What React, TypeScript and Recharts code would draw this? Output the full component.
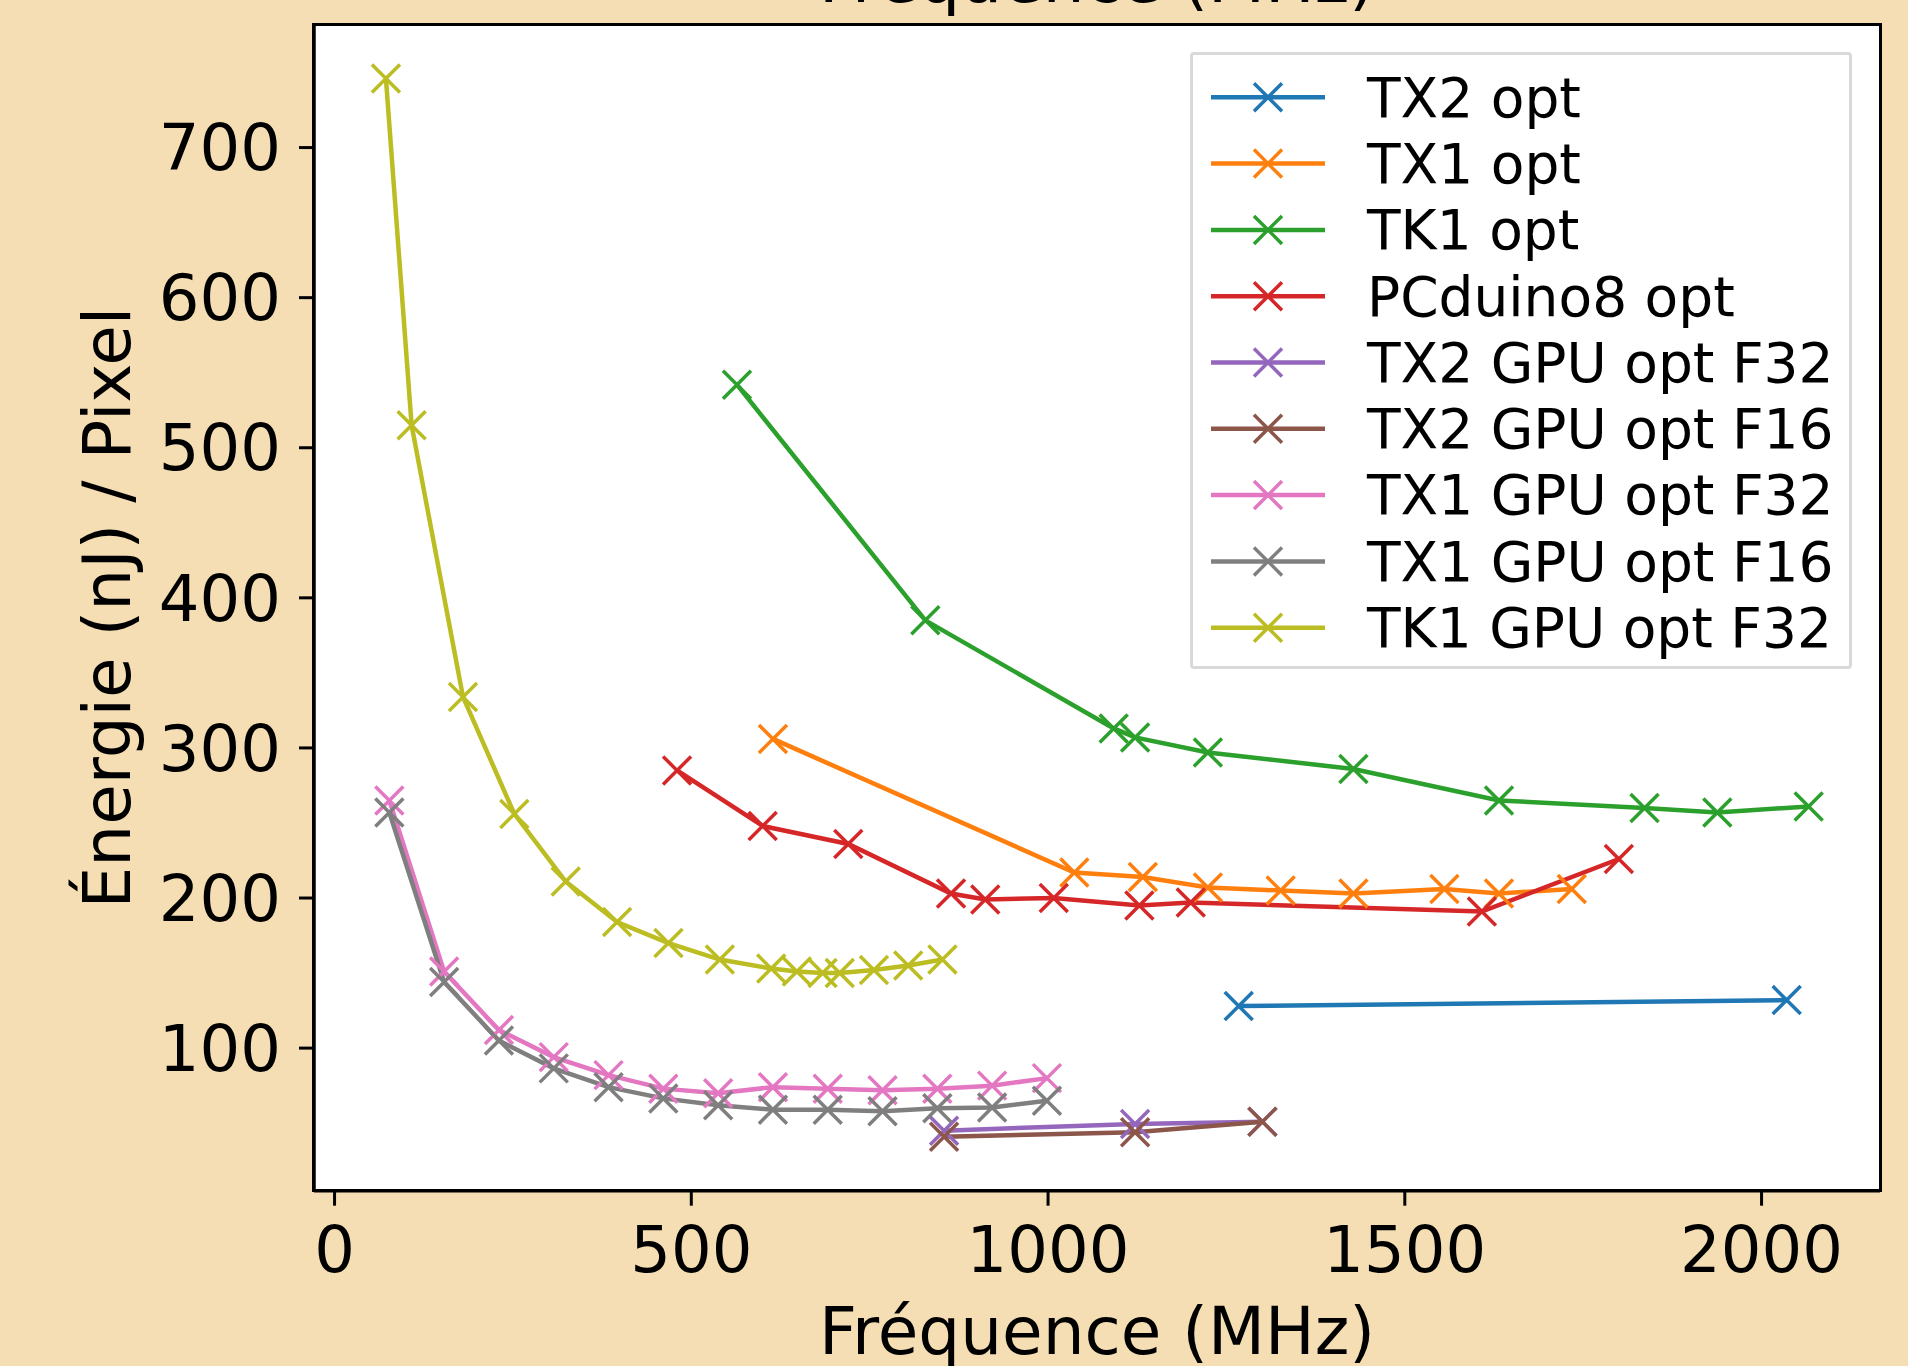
import { LineChart, Line, XAxis, YAxis, CartesianGrid, Legend } from "recharts";

const FONT = "DejaVu Sans";
const BG = "#f5deb3";

// frequencies (MHz) and energy per pixel (nJ)
const tx2Freq = [1267.2, 2035.2];
const tx2Energy = [128, 132];

const tx1Freq = [614.4, 1036.8, 1132.8, 1224, 1326, 1428, 1555.5, 1632, 1734];
const tx1Energy = [306, 217, 214, 207, 205, 203, 206, 203, 206];

const tk1Freq = [564, 828, 1092, 1122, 1224, 1428, 1632, 1836, 1938, 2066];
const tk1Energy = [542, 385, 313, 307, 297, 286, 265, 260, 257, 261];

const pcduinoFreq = [480, 600, 720, 864, 912, 1008, 1128, 1200, 1608, 1800];
const pcduinoEnergy = [285, 248, 236, 203, 199, 200, 195, 197, 191, 226];

const tx2GpuFreq = [854.25, 1122, 1300.5];
const tx2GpuF32 = [45, 49.5, 51];
const tx2GpuF16 = [41, 44, 51];

const tx1GpuFreq = [76.8, 153.6, 230.4, 307.2, 384, 460.8, 537.6, 614.4, 691.2, 768, 844.8, 921.6, 998.4];
const tx1GpuF32 = [265, 151, 112, 94, 82, 73, 70, 74, 73, 72, 73, 75, 80];
const tx1GpuF16 = [257, 144, 105, 86.5, 74, 66.5, 62, 59, 59, 58, 60, 60.5, 65];

const tk1GpuFreq = [72, 108, 180, 252, 324, 396, 468, 540, 612, 648, 684, 708, 756, 804, 852];
const tk1GpuF32 = [746, 515, 334, 256, 211, 184, 170, 159, 153, 151, 150, 150, 152, 155, 159];

const xTicks = [0, 500, 1000, 1500, 2000];
const yTicks = [100, 200, 300, 400, 500, 600, 700];

type Series = { name: string; color: string; freq: number[]; energy: number[] };

const series: Series[] = [
  { name: "TX2 opt", color: "#1f77b4", freq: tx2Freq, energy: tx2Energy },
  { name: "TX1 opt", color: "#ff7f0e", freq: tx1Freq, energy: tx1Energy },
  { name: "TK1 opt", color: "#2ca02c", freq: tk1Freq, energy: tk1Energy },
  { name: "PCduino8 opt", color: "#d62728", freq: pcduinoFreq, energy: pcduinoEnergy },
  { name: "TX2 GPU opt F32", color: "#9467bd", freq: tx2GpuFreq, energy: tx2GpuF32 },
  { name: "TX2 GPU opt F16", color: "#8c564b", freq: tx2GpuFreq, energy: tx2GpuF16 },
  { name: "TX1 GPU opt F32", color: "#e377c2", freq: tx1GpuFreq, energy: tx1GpuF32 },
  { name: "TX1 GPU opt F16", color: "#7f7f7f", freq: tx1GpuFreq, energy: tx1GpuF16 },
  { name: "TK1 GPU opt F32", color: "#bcbd22", freq: tk1GpuFreq, energy: tk1GpuF32 },
];

const W = 1908;
const H = 1366;
const PLOT = { left: 314, top: 24.5, right: 1880, bottom: 1190.7 };
const Y_AXIS_W = 200;
const X_AXIS_H = 100;
const MARK = 14;
const LABEL_SIZE = 66;

const crossPath = (x: number, y: number, r: number) =>
  `M${x - r},${y - r}L${x + r},${y + r}M${x - r},${y + r}L${x + r},${y - r}`;

const crossDot = (name: string, color: string) => (p: any) => {
  if (p.cx == null || p.cy == null) return <g key={`${name}-${p.index}`} />;
  return (
    <path
      key={`${name}-${p.index}`}
      d={crossPath(p.cx, p.cy, MARK)}
      stroke={color}
      strokeWidth={3.5}
      fill="none"
    />
  );
};

const xLabel = (props: any) => {
  const vb = props.viewBox;
  return (
    <text x={vb.x + vb.width / 2} y={vb.y + 163.3} textAnchor="middle" fontSize={LABEL_SIZE} fontFamily={FONT} fill="#000">
      Fréquence (MHz)
    </text>
  );
};

const yLabel = (props: any) => {
  const vb = props.viewBox;
  const x = vb.x + 16;
  const cy = vb.y + vb.height / 2;
  return (
    <text
      x={x}
      y={cy}
      transform={`rotate(-90, ${x}, ${cy})`}
      textAnchor="middle"
      fontSize={LABEL_SIZE}
      fontFamily={FONT}
      fill="#000"
    >
      Énergie (nJ) / Pixel
    </text>
  );
};

const LEG = { left: 1190, top: 52, width: 662, height: 617 };

function LegendBox() {
  return (
    <div
      style={{
        width: LEG.width,
        height: LEG.height,
        boxSizing: "border-box",
        background: "#fff",
        border: "3px solid #d9d9d9",
        borderRadius: 4,
      }}
    >
      <svg width={LEG.width - 6} height={LEG.height - 6} style={{ display: "block", overflow: "visible" }}>
        {series.map((s, i) => {
          const cy = 42.3 + i * 66.3;
          return (
            <g key={s.name}>
              <line x1={18} x2={132} y1={cy} y2={cy} stroke={s.color} strokeWidth={4.5} />
              <path d={crossPath(75, cy, MARK)} stroke={s.color} strokeWidth={3.5} fill="none" />
              <text x={174} y={cy + 19.3} fontSize={55} fontFamily={FONT} fill="#000">
                {s.name}
              </text>
            </g>
          );
        })}
      </svg>
    </div>
  );
}

export default function App() {
  return (
    <div style={{ position: "absolute", left: 0, top: 0, width: W, height: H, background: BG, overflow: "hidden" }}>
      <LineChart
        width={W}
        height={H}
        margin={{
          top: PLOT.top,
          right: W - PLOT.right,
          bottom: H - PLOT.bottom - X_AXIS_H,
          left: PLOT.left - Y_AXIS_W,
        }}
      >
        <CartesianGrid fill="#fff" horizontal={false} vertical={false} />
        <XAxis
          dataKey="f"
          type="number"
          domain={[-28.8, 2166]}
          ticks={xTicks}
          allowDataOverflow
          height={X_AXIS_H}
          tickSize={15}
          tickMargin={21}
          tick={{ fontSize: 64, fontFamily: FONT, fill: "#000" }}
          tickLine={{ stroke: "#000", strokeWidth: 3 }}
          axisLine={{ stroke: "#000", strokeWidth: 3.5 }}
          label={xLabel}
        />
        <YAxis
          type="number"
          domain={[5, 782]}
          ticks={yTicks}
          allowDataOverflow
          width={Y_AXIS_W}
          tickSize={15}
          tickMargin={18}
          tick={{ fontSize: 64, fontFamily: FONT, fill: "#000" }}
          tickLine={{ stroke: "#000", strokeWidth: 3 }}
          axisLine={{ stroke: "#000", strokeWidth: 3.5 }}
          label={yLabel}
        />
        <Legend
          layout="vertical"
          align="center"
          verticalAlign="middle"
          content={() => <LegendBox />}
          wrapperStyle={{ left: LEG.left, top: LEG.top, width: LEG.width, height: LEG.height }}
        />
        {series.map((s) => (
          <Line
            key={s.name}
            name={s.name}
            data={s.freq.map((f, i) => ({ f, e: s.energy[i] }))}
            dataKey="e"
            type="linear"
            stroke={s.color}
            strokeWidth={4.5}
            dot={crossDot(s.name, s.color)}
            activeDot={false}
            isAnimationActive={false}
          />
        ))}
      </LineChart>
      <div
        style={{
          position: "absolute",
          left: PLOT.left - 1.75,
          top: PLOT.top - 1.75,
          width: PLOT.right - PLOT.left + 3.5,
          height: PLOT.bottom - PLOT.top + 3.5,
          border: "3.5px solid #000",
          boxSizing: "border-box",
          pointerEvents: "none",
        }}
      />
      <svg width={W} height={30} style={{ position: "absolute", left: 0, top: 0, overflow: "visible" }}>
        <text x={(PLOT.left + PLOT.right) / 2} y={1.5} textAnchor="middle" fontSize={LABEL_SIZE} fontFamily={FONT} fill="#000">
          Fréquence (MHz)
        </text>
      </svg>
    </div>
  );
}
